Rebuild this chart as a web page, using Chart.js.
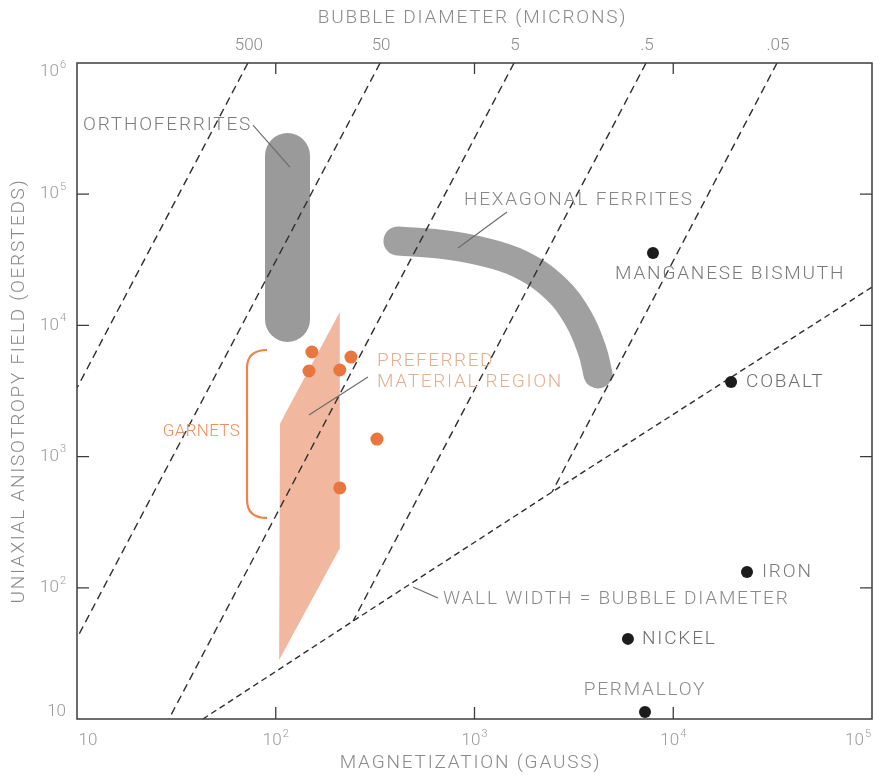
<!DOCTYPE html>
<html>
<head>
<meta charset="utf-8">
<script src="https://cdn.jsdelivr.net/npm/chart.js@4/dist/chart.umd.min.js"></script>
<style>
  html, body { margin: 0; padding: 0; background: #ffffff; }
  #wrap { width: 885px; height: 775px; position: relative; }
</style>
</head>
<body>
<div id="wrap"><canvas id="c" width="885" height="775"></canvas></div>
<script>
// Magnetization (gauss) vs. uniaxial anisotropy field (oersteds), both log scales.

// Lines of constant bubble diameter (microns): top end sits on H = 1e6
const diameterLabels = ['500', '50', '5', '.5', '.05'];
const diameterTopM   = [72.4, 335, 1581, 7295, 33270];
const diameterEndM   = [10, 10, 29, 245, 2455];
const diameterEndH   = [3335, 41.4, 10, 55.8, 537];

// Wall width = bubble diameter
const wallM = [43, 245, 2455, 100000];
const wallH = [10, 55.8, 537, 19600];

// Orthoferrites band (centre line)
const orthoM = [114.6, 114.6];
const orthoH = [197000, 11100];

// Hexagonal ferrites band (centre line)
const hexM = [412, 670, 1067, 1694, 2540, 3320, 3900, 4180];
const hexH = [43950, 41700, 36900, 29400, 19300, 11380, 6500, 4270];

// Garnet / preferred material region outline
const garnetRegionM = [210, 110, 105, 104, 209, 210];
const garnetRegionH = [12650, 2037, 1771, 28.2, 197.7, 12650];

// Individual garnet compositions
const garnetM = [152, 239, 147, 210, 323, 210];
const garnetH = [6270, 5740, 4490, 4570, 1361, 577];

// Metals
const metalNames = ['MANGANESE BISMUTH', 'COBALT', 'IRON', 'NICKEL', 'PERMALLOY'];
const metalM = [7907, 19540, 23500, 5915, 7210];
const metalH = [35650, 3707, 131.8, 40.8, 11.3];

// Axis decades
const xDecades = [1, 2, 3, 4, 5];
const yDecades = [1, 2, 3, 4, 5, 6];

const FONT = '"Roboto", "Liberation Sans", "DejaVu Sans", sans-serif';
const GRAY_TEXT = '#8a8a8a';
const DASH_COLOR = '#2e2e2e';

function pts(xs, ys) { return xs.map((x, i) => ({ x: x, y: ys[i] })); }

const datasets = [];

// dots on top
datasets.push({
  label: 'metals', data: pts(metalM, metalH), order: 0,
  pointRadius: 6, pointBackgroundColor: '#1c1c1c', pointBorderWidth: 0
});
datasets.push({
  label: 'garnets', data: pts(garnetM, garnetH), order: 0,
  pointRadius: 6.5, pointBackgroundColor: '#e9773d', pointBorderWidth: 0
});

// dashed lines of constant diameter
diameterLabels.forEach((lab, i) => {
  datasets.push({
    label: 'd ' + lab,
    data: [{ x: diameterTopM[i], y: 1e6 }, { x: diameterEndM[i], y: diameterEndH[i] }],
    showLine: true, order: 1, pointRadius: 0,
    borderColor: DASH_COLOR, borderWidth: 1.4, borderDash: [8, 5]
  });
});
datasets.push({
  label: 'wall', data: pts(wallM, wallH), showLine: true, order: 1, pointRadius: 0,
  borderColor: DASH_COLOR, borderWidth: 1.4, borderDash: [6, 4]
});

// material bands
datasets.push({
  label: 'orthoferrites', data: pts(orthoM, orthoH), showLine: true, order: 2, pointRadius: 0,
  borderColor: '#9a9a9a', borderWidth: 45, borderCapStyle: 'round'
});
datasets.push({
  label: 'hexagonal ferrites', data: pts(hexM, hexH), showLine: true, order: 2, pointRadius: 0,
  borderColor: '#a0a0a0', borderWidth: 29, borderCapStyle: 'round', borderJoinStyle: 'round', tension: 0.4
});
datasets.push({
  label: 'garnet region', data: pts(garnetRegionM, garnetRegionH), showLine: true, order: 3, pointRadius: 0,
  borderWidth: 0, borderColor: 'rgba(0,0,0,0)', fill: 'shape', backgroundColor: '#f1b79f', tension: 0
});

// annotations, anchored in data units
const notes = [
  { text: 'ORTHOFERRITES', m: 10.72, h: 336600, align: 'left', color: '#7c7c7c' },
  { text: 'HEXAGONAL FERRITES', m: 885, h: 90400, align: 'left', color: '#878787' },
  { text: 'MANGANESE BISMUTH', m: 5093, h: 24660, align: 'left', color: '#7a7a7a' },
  { text: 'COBALT', m: 23230, h: 3707, align: 'left', color: '#6e6e6e' },
  { text: 'IRON', m: 27960, h: 131.8, align: 'left', color: '#7a7a7a' },
  { text: 'NICKEL', m: 6966, h: 40.8, align: 'left', color: '#6e6e6e' },
  { text: 'PERMALLOY', m: 7210, h: 16.6, align: 'center', color: '#8a8a8a' },
  { text: 'WALL WIDTH = BUBBLE DIAMETER', m: 694, h: 82.1, align: 'left', color: '#8a8a8a' },
  { text: 'PREFERRED', m: 323, h: 5357, align: 'left', color: '#e2b08f', spacing: 1.5 },
  { text: 'MATERIAL REGION', m: 323, h: 3704, align: 'left', color: '#e2b08f', spacing: 1.7 },
  { text: 'GARNETS', m: 66.1, h: 1540, align: 'right', color: '#ec8f5c', size: 17, spacing: 0.3 }
];
const leaders = [
  { m1: 76.8, h1: 336600, m2: 117.9, h2: 161000 },
  { m1: 1457, h1: 73100, m2: 826, h2: 38900 },
  { m1: 490.5, h1: 101.4, m2: 655, h2: 83.6 },
  { m1: 291, h1: 4046, m2: 146.9, h2: 2075 }
];
const bracket = { m: 71.7, tipM: 90.4, hTop: 6495, hBottom: 340.6 };

function text(ctx, s, x, y, align, color, size, spacing) {
  ctx.save();
  ctx.font = '300 ' + size + 'px ' + FONT;
  ctx.letterSpacing = (spacing || 0) + 'px';
  ctx.fillStyle = color;
  ctx.textAlign = align;
  ctx.textBaseline = 'middle';
  ctx.fillText(s, x, y);
  ctx.restore();
}

// "10" with a raised exponent, positioned by its centre or right edge
function power(ctx, exp, x, y, align) {
  ctx.save();
  ctx.font = '300 17px ' + FONT;
  const base = '10';
  const wb = ctx.measureText(base).width;
  const sup = exp > 1 ? String(exp) : '';
  ctx.font = '300 11px ' + FONT;
  const ws = sup ? ctx.measureText(sup).width + 1 : 0;
  const total = wb + ws;
  let left = align === 'right' ? x - total : x - total / 2;
  ctx.fillStyle = '#9a9a9a';
  ctx.textBaseline = 'middle';
  ctx.textAlign = 'left';
  ctx.font = '300 17px ' + FONT;
  ctx.fillText(base, left, y);
  if (sup) {
    ctx.font = '300 11px ' + FONT;
    ctx.fillText(sup, left + wb + 1, y - 7);
  }
  ctx.restore();
}

const decor = {
  id: 'decor',
  afterDatasetsDraw(chart) {
    const ctx = chart.ctx;
    const xs = chart.scales.x, ys = chart.scales.y;
    const a = chart.chartArea;
    const X = v => xs.getPixelForValue(v);
    const Y = v => ys.getPixelForValue(v);

    // frame
    ctx.save();
    ctx.strokeStyle = '#3c3c3c';
    ctx.lineWidth = 1.5;
    ctx.strokeRect(a.left, a.top, a.right - a.left, a.bottom - a.top);

    // inward ticks
    ctx.lineWidth = 1.3;
    ctx.beginPath();
    xDecades.forEach(d => {
      if (d === 1 || d === 5) return;
      const px = X(Math.pow(10, d));
      ctx.moveTo(px, a.bottom); ctx.lineTo(px, a.bottom - 12);
      ctx.moveTo(px, a.top); ctx.lineTo(px, a.top + 11);
    });
    yDecades.forEach(d => {
      if (d === 1 || d === 6) return;
      const py = Y(Math.pow(10, d));
      ctx.moveTo(a.left, py); ctx.lineTo(a.left + 12, py);
      ctx.moveTo(a.right, py); ctx.lineTo(a.right - 12, py);
    });
    ctx.stroke();
    ctx.restore();

    // tick labels
    xDecades.forEach(d => {
      const px = Math.min(Math.max(X(Math.pow(10, d)), a.left + 11), a.right - 14);
      power(ctx, d, px, a.bottom + 22, 'center');
    });
    yDecades.forEach(d => {
      const py = Math.min(Math.max(Y(Math.pow(10, d)), a.top + 9), a.bottom - 7);
      power(ctx, d, a.left - 11, py, 'right');
    });

    // top axis: bubble diameter
    diameterLabels.forEach((lab, i) => {
      text(ctx, lab, X(diameterTopM[i]) + 1, a.top - 17, 'center', '#8a8a8a', 17, 0);
    });

    // axis titles
    const cx = (a.left + a.right) / 2;
    text(ctx, 'BUBBLE DIAMETER (MICRONS)', cx - 2, 18, 'center', GRAY_TEXT, 19, 1.8);
    text(ctx, 'MAGNETIZATION (GAUSS)', cx - 4, 763, 'center', GRAY_TEXT, 19, 1.8);
    ctx.save();
    ctx.translate(19, (a.top + a.bottom) / 2);
    ctx.rotate(-Math.PI / 2);
    text(ctx, 'UNIAXIAL ANISOTROPY FIELD (OERSTEDS)', 0, 0, 'center', GRAY_TEXT, 19, 1.7);
    ctx.restore();

    // leader lines
    ctx.save();
    ctx.strokeStyle = '#6a6a6a';
    ctx.lineWidth = 1.1;
    ctx.beginPath();
    leaders.forEach(l => {
      ctx.moveTo(X(l.m1), Y(l.h1));
      ctx.lineTo(X(l.m2), Y(l.h2));
    });
    ctx.stroke();

    // garnet bracket
    const bx = X(bracket.m), tx = X(bracket.tipM);
    const bt = Y(bracket.hTop), bb = Y(bracket.hBottom);
    ctx.strokeStyle = '#e9844c';
    ctx.lineWidth = 2.2;
    ctx.beginPath();
    ctx.moveTo(tx, bt);
    ctx.quadraticCurveTo(bx, bt, bx, bt + 18);
    ctx.lineTo(bx, bb - 18);
    ctx.quadraticCurveTo(bx, bb, tx, bb);
    ctx.stroke();
    ctx.restore();

    // annotation text
    notes.forEach(n => {
      text(ctx, n.text, X(n.m), Y(n.h), n.align, n.color, n.size || 19,
           n.spacing !== undefined ? n.spacing : 1.8);
    });
  }
};

const hidden = {
  type: 'logarithmic',
  grid: { display: false },
  border: { display: false },
  ticks: { display: false }
};

new Chart(document.getElementById('c').getContext('2d'), {
  type: 'scatter',
  data: { datasets: datasets },
  options: {
    responsive: false,
    animation: false,
    events: [],
    layout: { padding: { left: 0, right: 13, top: 0, bottom: 0 } },
    plugins: { legend: { display: false }, tooltip: { enabled: false } },
    scales: {
      x: Object.assign({}, hidden, { position: 'bottom', min: 10, max: 100000,
        afterFit(s) { s.height = 56; } }),
      x2: Object.assign({}, hidden, { position: 'top', min: 10, max: 100000,
        afterFit(s) { s.height = 63; } }),
      y: Object.assign({}, hidden, { position: 'left', min: 10, max: 1000000,
        afterFit(s) { s.width = 77; } })
    }
  },
  plugins: [decor]
});
</script>
</body>
</html>
